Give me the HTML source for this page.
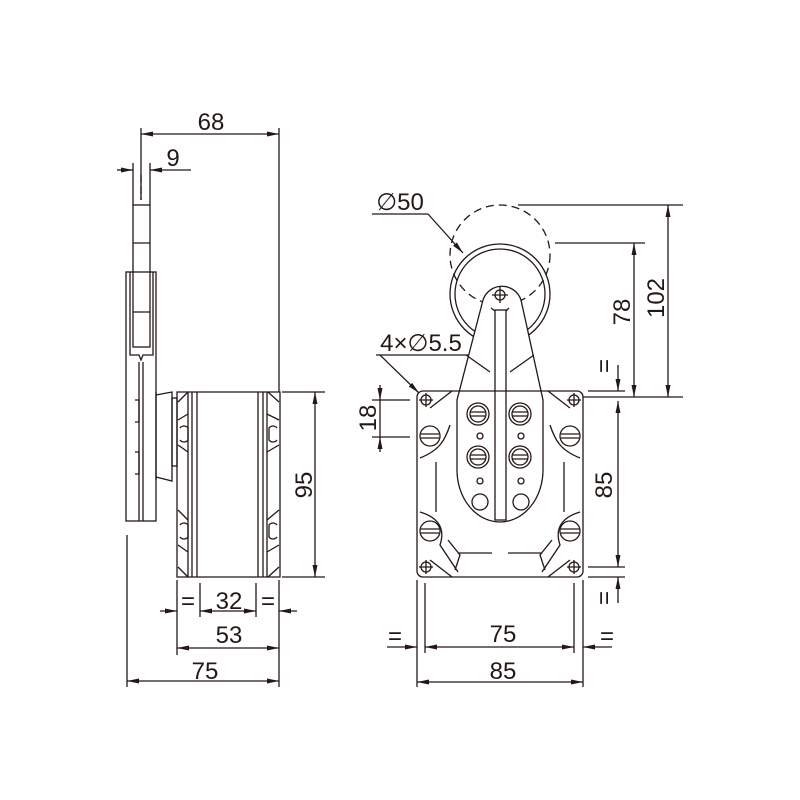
<!DOCTYPE html>
<html><head><meta charset="utf-8"><style>
html,body{margin:0;padding:0;background:#fff;}
svg{display:block;}
text{font-family:"Liberation Sans",sans-serif;font-size:24px;fill:#231815;}
</style></head><body>
<svg width="800" height="800" viewBox="0 0 800 800" xmlns="http://www.w3.org/2000/svg">
<defs>
<marker id="a" markerWidth="12" markerHeight="8" refX="12" refY="4" orient="auto-start-reverse" markerUnits="userSpaceOnUse">
<path d="M0,1.5 L12,4 L0,6.5 Z" fill="#231815"/></marker>
</defs>
<g stroke="#231815" stroke-width="1.3" fill="none">
<!-- LEFT VIEW -->
<line x1="141" y1="128" x2="141" y2="200"/>
<line x1="279" y1="128" x2="279" y2="392"/>
<line x1="141" y1="134" x2="279" y2="134" marker-start="url(#a)" marker-end="url(#a)"/>
<line x1="133" y1="163" x2="133" y2="205"/>
<line x1="150" y1="163" x2="150" y2="205"/>
<line x1="117" y1="170" x2="133" y2="170" marker-end="url(#a)"/>
<line x1="191" y1="170" x2="150" y2="170" marker-end="url(#a)"/>
<line x1="141" y1="175" x2="141" y2="200" stroke-dasharray="8,3"/>
<!-- lever -->
<rect x="133" y="205" width="17" height="142"/>
<line x1="133" y1="243" x2="150" y2="243"/>
<line x1="133" y1="312" x2="150" y2="312"/>
<rect x="126" y="272" width="30" height="249"/>
<path d="M130,272 V355 H139 L141,360 L143,355 H153 V272"/>
<line x1="139" y1="362" x2="139" y2="521"/>
<line x1="143" y1="362" x2="143" y2="521"/>
<!-- flange -->
<path d="M156,395 L172,392 V481 L156,477"/>
<line x1="156" y1="392" x2="156" y2="480"/>
<rect x="172" y="398" width="5" height="68"/>
<path d="M135,400 h4 v22 h-4 M135,452 h4 v22 h-4"/>
<!-- body -->
<path d="M177,392 H280 V577 H177 Z"/>
<path d="M188,392 L178,402 M268,392 L279,402 M188,577 L178,567 M268,577 L279,567"/>
<line x1="188" y1="392" x2="188" y2="577"/><line x1="192" y1="392" x2="192" y2="577"/><line x1="197" y1="392" x2="197" y2="577"/>
<line x1="258" y1="392" x2="258" y2="577"/><line x1="263" y1="392" x2="263" y2="577"/><line x1="267" y1="392" x2="267" y2="577"/>
<path d="M178,420 L188,414 M178,445 L188,452 M178,510 L188,520 M178,545 L188,552"/>
<path d="M279,420 L267,414 M279,445 L267,452 M279,510 L267,520 M279,545 L267,552"/>
<path d="M180,428 a5,5 0 0 1 8,0 v12 a5,5 0 0 1 -8,0 M180,525 a5,5 0 0 1 8,0 v12 a5,5 0 0 1 -8,0"/>
<path d="M277,428 a5,5 0 0 0 -8,0 v12 a5,5 0 0 0 8,0 M277,525 a5,5 0 0 0 -8,0 v12 a5,5 0 0 0 8,0"/>
<!-- 95 -->
<line x1="282" y1="392" x2="325" y2="392"/>
<line x1="282" y1="577" x2="325" y2="577"/>
<line x1="315" y1="392" x2="315" y2="577" marker-start="url(#a)" marker-end="url(#a)"/>
<!-- bottom dims left -->
<line x1="127" y1="535" x2="127" y2="687"/>
<line x1="177" y1="580" x2="177" y2="655"/>
<line x1="279" y1="580" x2="279" y2="687"/>
<line x1="200" y1="583" x2="200" y2="617"/>
<line x1="256" y1="583" x2="256" y2="617"/>
<line x1="160" y1="611" x2="177" y2="611" marker-end="url(#a)"/>
<line x1="200" y1="611" x2="256" y2="611" marker-start="url(#a)" marker-end="url(#a)"/>
<line x1="297" y1="611" x2="279" y2="611" marker-end="url(#a)"/>
<line x1="177" y1="648" x2="279" y2="648" marker-start="url(#a)" marker-end="url(#a)"/>
<line x1="127" y1="681" x2="279" y2="681" marker-start="url(#a)" marker-end="url(#a)"/>
<!-- FRONT VIEW -->
<circle cx="500" cy="255" r="50" stroke-dasharray="8,5"/>
<circle cx="500" cy="294" r="50"/>
<circle cx="500" cy="294" r="45"/>
<path d="M483,300 A20,20 0 0 1 521,300 L543,400 L543,470 A43,52 0 0 1 457,470 L457,400 Z" fill="#fff"/>
<path d="M466,355 L490,372 M534,355 L510,372"/>
<rect x="495" y="310" width="11" height="210" fill="#fff"/>
<path d="M491,308 L495,311 M509,308 L506,311"/>
<circle cx="500" cy="295" r="5"/><path d="M492,295 h16 M500,287 v16"/>
<rect x="417" y="391" width="166" height="186" rx="6" fill="none"/>
<path d="M430,408 L452,391 M570,408 L548,391 M430,560 L452,577 M570,560 L548,577"/>
<path d="M420,458 C440,450 445,440 450,425 M580,458 C560,450 555,440 550,425"/>
<path d="M420,512 C440,518 445,530 440,545 L458,572 M580,512 C560,518 555,530 560,545 L542,572"/>
<path d="M436,462 V512 M564,462 V512"/>
<path d="M458,553 H492 M508,553 H542"/>
<path d="M448,540 L460,555 L455,570 M552,540 L540,555 L545,570"/>
<circle cx="426" cy="400" r="5"/><path d="M419,400h14M426,393v14"/>
<circle cx="574" cy="400" r="5"/><path d="M567,400h14M574,393v14"/>
<circle cx="426" cy="567" r="5"/><path d="M419,567h14M426,560v14"/>
<circle cx="574" cy="567" r="5"/><path d="M567,567h14M574,560v14"/>
<circle cx="430" cy="436" r="10"/><path d="M421,434h18M421,438h18"/>
<circle cx="570" cy="436" r="10"/><path d="M561,434h18M561,438h18"/>
<circle cx="430" cy="531" r="10"/><path d="M421,529h18M421,533h18"/>
<circle cx="570" cy="531" r="10"/><path d="M561,529h18M561,533h18"/>
<g>
<circle cx="478" cy="414" r="11"/><circle cx="478" cy="414" r="8"/><path d="M470,412h16M470,416h16"/>
<circle cx="520" cy="414" r="11"/><circle cx="520" cy="414" r="8"/><path d="M512,412h16M512,416h16"/>
<circle cx="478" cy="457" r="11"/><circle cx="478" cy="457" r="8"/><path d="M470,455h16M470,459h16"/>
<circle cx="520" cy="457" r="11"/><circle cx="520" cy="457" r="8"/><path d="M512,455h16M512,459h16"/>
<circle cx="480" cy="436" r="3"/><circle cx="521" cy="436" r="3"/>
<circle cx="480" cy="481" r="3"/><circle cx="521" cy="481" r="3"/>
<circle cx="480" cy="502" r="8"/><circle cx="521" cy="502" r="8"/>
</g>
<!-- dims front -->
<line x1="518" y1="205" x2="683" y2="205"/>
<line x1="555" y1="243" x2="645" y2="243"/>
<line x1="583" y1="397" x2="683" y2="397"/>
<line x1="668" y1="205" x2="668" y2="397" marker-start="url(#a)" marker-end="url(#a)"/>
<line x1="634" y1="243" x2="634" y2="397" marker-start="url(#a)" marker-end="url(#a)"/>
<line x1="588" y1="391" x2="625" y2="391"/>
<line x1="588" y1="567" x2="625" y2="567"/>
<line x1="588" y1="577" x2="625" y2="577"/>
<line x1="618" y1="365" x2="618" y2="391" marker-end="url(#a)"/>
<line x1="618" y1="401" x2="618" y2="567" marker-start="url(#a)" marker-end="url(#a)"/>
<line x1="618" y1="603" x2="618" y2="577" marker-end="url(#a)"/>
<line x1="372" y1="400" x2="410" y2="400"/>
<line x1="372" y1="437" x2="410" y2="437"/>
<line x1="380" y1="385" x2="380" y2="400" marker-end="url(#a)"/>
<line x1="380" y1="452" x2="380" y2="437" marker-end="url(#a)"/>
<line x1="380" y1="400" x2="380" y2="437"/>
<path d="M376,355 H468"/>
<line x1="380" y1="355" x2="419" y2="393" marker-end="url(#a)"/>
<path d="M372,214 H428"/>
<line x1="428" y1="214" x2="463" y2="253" marker-end="url(#a)"/>
<line x1="417" y1="580" x2="417" y2="687"/>
<line x1="583" y1="580" x2="583" y2="687"/>
<line x1="425" y1="583" x2="425" y2="653"/>
<line x1="574" y1="583" x2="574" y2="653"/>
<line x1="387" y1="647" x2="417" y2="647" marker-end="url(#a)"/>
<line x1="425" y1="647" x2="574" y2="647" marker-start="url(#a)" marker-end="url(#a)"/>
<line x1="612" y1="647" x2="583" y2="647" marker-end="url(#a)"/>
<line x1="417" y1="682" x2="583" y2="682" marker-start="url(#a)" marker-end="url(#a)"/>
</g>
<g>
<text x="211" y="130" text-anchor="middle">68</text>
<text x="173" y="166" text-anchor="middle">9</text>
<text x="229" y="609" text-anchor="middle">32</text>
<text x="188" y="609" text-anchor="middle">=</text>
<text x="268" y="609" text-anchor="middle">=</text>
<text x="229" y="643" text-anchor="middle">53</text>
<text x="205" y="679" text-anchor="middle">75</text>
<text transform="translate(312,485) rotate(-90)" text-anchor="middle">95</text>
<text x="400" y="210" text-anchor="middle">∅50</text>
<text x="421" y="351" text-anchor="middle">4×∅5.5</text>
<text transform="translate(376,418) rotate(-90)" text-anchor="middle">18</text>
<text transform="translate(664,298) rotate(-90)" text-anchor="middle">102</text>
<text transform="translate(630,312) rotate(-90)" text-anchor="middle">78</text>
<text transform="translate(612,485) rotate(-90)" text-anchor="middle">85</text>
<text transform="translate(612,366) rotate(-90)" text-anchor="middle">=</text>
<text transform="translate(612,598) rotate(-90)" text-anchor="middle">=</text>
<text x="503" y="642" text-anchor="middle">75</text>
<text x="503" y="679" text-anchor="middle">85</text>
<text x="395" y="644" text-anchor="middle">=</text>
<text x="607" y="644" text-anchor="middle">=</text>
</g>
</svg>
</body></html>
